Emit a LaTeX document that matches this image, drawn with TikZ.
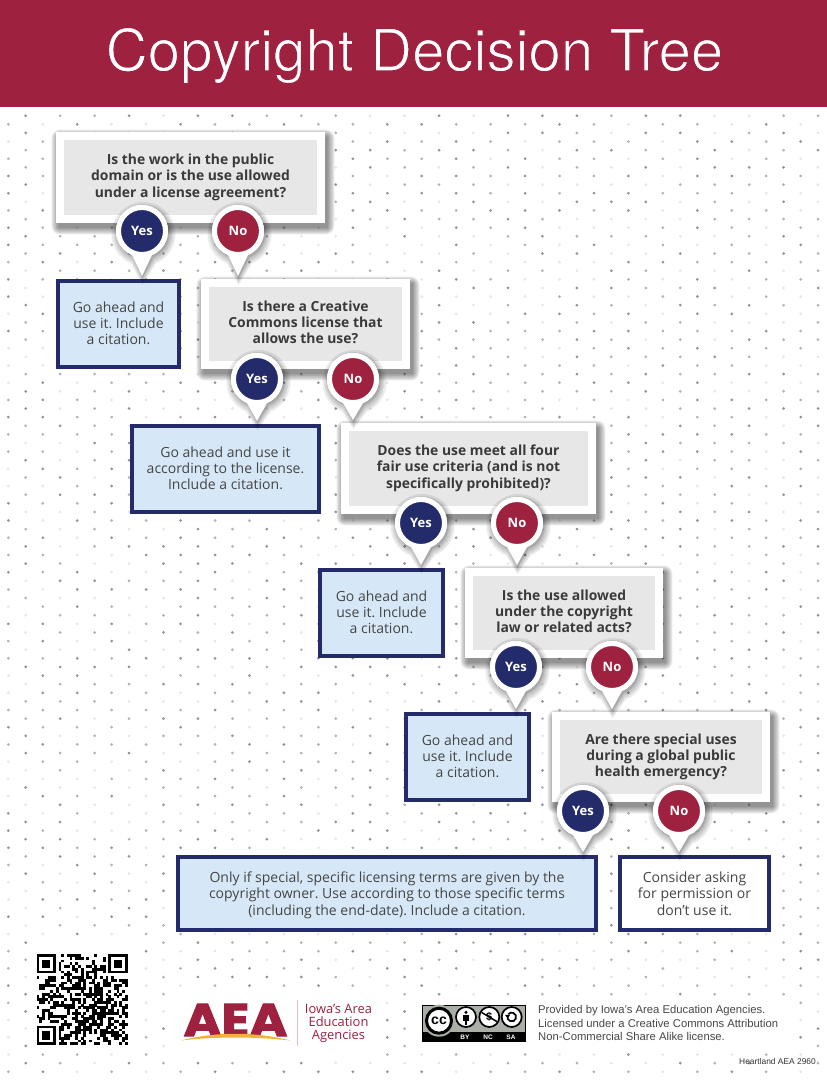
\documentclass[tikz,border=0pt]{standalone}
\usepackage{fontspec}
\usetikzlibrary{calc,arrows.meta}
\setmainfont{Open Sans}
\newfontfamily\heros{TeX Gyre Heros}
\newfontfamily\libsans{Liberation Sans}
\newfontfamily\logofont[BoldFeatures={FakeBold=2.2}]{Poppins}
\frenchspacing
\definecolor{crimson}{HTML}{9E2140}
\definecolor{navy}{HTML}{232B6B}
\definecolor{lightblue}{HTML}{D6E8F7}
\definecolor{qgrey}{HTML}{E8E7E8}
\definecolor{qtext}{HTML}{3A3A3A}
\definecolor{atext}{HTML}{454545}
\definecolor{swoosh}{HTML}{F2B233}
\definecolor{ccgrey}{HTML}{A9AEA7}
\definecolor{dotdark}{HTML}{939393}
\definecolor{dotmid}{HTML}{B2B2B2}
\definecolor{dotlight}{HTML}{E6E6E6}
\newcommand\firstA{\rule{0pt}{13pt}}
\newcommand\firstW{\rule{0pt}{15pt}}
\tikzset{
  qbox/.style={rectangle,fill=qgrey,draw=white,line width=8pt,inner sep=0pt,align=center,text=qtext,
    execute at end node={\rule[-3.7pt]{0pt}{3.7pt}},
    font=\fontsize{13.9}{16.4}\selectfont\bfseries},
  abox/.style={rectangle,fill=lightblue,draw=navy,line width=4pt,inner sep=0pt,align=center,text=atext,
    execute at end node={\rule[-4.2pt]{0pt}{4.2pt}},
    font=\fontsize{14}{16.2}\selectfont},
  pinyes/.style={circle,fill=navy,draw=white,line width=5pt,minimum size=47pt,inner sep=0pt,text=white,
    font=\fontsize{13}{15}\selectfont\bfseries},
  pinno/.style={pinyes,fill=crimson},
  foot/.style={inner sep=0pt,align=left,text=black!72,font=\fontsize{11.27}{13.4}\libsans},
  ccicon/.style={circle,fill=white,draw=black,line width=1.7pt,minimum size=20pt,inner sep=0pt},
  cclabel/.style={text=white,inner sep=0pt,font=\fontsize{6.5}{7}\libsans\bfseries}
}
% name, x1, y1, x2, y2, text
\newcommand\qnode[6]{%
  \foreach \e in {9,8,7,6,5,4,3,2,1,0}{%
    \fill[black,opacity=.05,rounded corners=\e pt] ({#2+2.5-\e*.8},{#3+4.5-\e*.8}) rectangle ({#4+2.5+\e*.8},{#5+4.5+\e*.8});
  }%
  \node[qbox,minimum width={(#4)-(#2)-8},minimum height={(#5)-(#3)-8}] (#1) at ({(#2+#4)/2},{(#3+#5)/2}) {#6};
}
\newcommand\pinoutline[3]{% centre, radius, tip
  ($(#1)+(67.4:#2)$) arc[start angle=67.4,end angle=-247.4,radius=#2] -- (#3) -- cycle}
% name, x, y, target node, style, label
\newcommand\pinnode[6]{%
  \coordinate (#1c) at (#2,#3);
  \coordinate (#1t) at ($(#1c |- #4.north)+(0,-3)$);
  \foreach \e/\d in {6/3,4/3,2.5/2.5,1/2,0/2}{%
    \fill[black,opacity=.08] \pinoutline{$(#1c)+(1.5,\d)$}{26+\e}{$(#1t)+(.5,\d+\e)$};
  }%
  \fill[white] \pinoutline{#1c}{26}{#1t};
  \node[#5] (#1) at (#1c) {#6};
}
\begin{document}
\begin{tikzpicture}[x=1pt,y=-1pt]
\useasboundingbox (0,0) rectangle (827,1080);
\fill[white] (0,0) rectangle (827,1080);
% dot field
\pgfmathsetseed{2960}
\foreach \n in {0,...,111}{
  \pgfmathsetmacro\yy{115.7+8.613*\n}
  \pgfmathtruncatemacro\od{mod(\n,2)}
  \pgfmathsetmacro\xo{\od==1 ? 8.33 : 25.7}
  \foreach \k in {0,...,23}{
    \pgfmathrandominteger\rr{0}{9}
    \ifnum\rr<3 \def\dc{dotdark}\else\ifnum\rr<7 \def\dc{dotmid}\else\def\dc{dotlight}\fi\fi
    \fill[\dc] ({\xo+34.45*\k},\yy) circle (1.5);
  }
}
% clear areas in the dot field behind the footer items
\fill[white] (33,940) rectangle (140,1050);
\fill[white] (170,990) rectangle (380,1058);
\fill[white] (412,998) rectangle (795,1050);
% header
\fill[crimson] (0,0) rectangle (827,106.5);
\node[text=white,inner sep=0pt,font=\fontsize{58.2}{66}\heros] (title) at (414.5,55.5) {\special{pdf:code q 2 Tr 1.1 w 0.62 0.129 0.251 RG}Copyright Decision Tree\special{pdf:code 0 Tr Q}};
% answer boxes
\node[abox,minimum width=121pt,minimum height=86pt] (a1) at (118.5,324) {\firstA Go ahead and\\use it. Include\\a citation.};
\node[abox,minimum width=187pt,minimum height=86pt] (a2) at (225.5,469) {\firstA Go ahead and use it\\according to the license.\\Include a citation.};
\node[abox,minimum width=123pt,minimum height=86pt] (a3) at (381.5,613) {\firstA Go ahead and\\use it. Include\\a citation.};
\node[abox,minimum width=123pt,minimum height=86pt] (a4) at (467.5,757) {\firstA Go ahead and\\use it. Include\\a citation.};
\node[abox,minimum width=418pt,minimum height=73pt] (a5) at (387,893.5) {\firstW Only if special, specific licensing terms are given by the\\copyright owner. Use according to those specific terms\\(including the end-date). Include a citation.};
\node[abox,fill=white,minimum width=149pt,minimum height=73pt] (a6) at (694.5,893.5) {\firstW Consider asking\\for permission or\\don’t use it.};
% question boxes
\qnode{q1}{56}{132}{325}{223}{Is the work in the public\\domain or is the use allowed\\under a license agreement?}
\qnode{q2}{201}{279}{410}{369}{Is there a Creative\\Commons license that\\allows the use?}
\qnode{q3}{341}{423}{596}{514}{Does the use meet all four\\fair use criteria (and is not\\specifically prohibited)?}
\qnode{q4}{465}{568}{663}{658}{Is the use allowed\\under the copyright\\law or related acts?}
\qnode{q5}{552}{712}{770}{802}{Are there special uses\\during a global public\\health emergency?}
% pins
\pinnode{y1}{142}{231}{a1}{pinyes}{Yes}
\pinnode{n1}{238}{231}{q2}{pinno}{No}
\pinnode{y2}{257}{379}{a2}{pinyes}{Yes}
\pinnode{n2}{353}{379}{q3}{pinno}{No}
\pinnode{y3}{421}{523}{a3}{pinyes}{Yes}
\pinnode{n3}{517}{523}{q4}{pinno}{No}
\pinnode{y4}{516}{667}{a4}{pinyes}{Yes}
\pinnode{n4}{612}{667}{q5}{pinno}{No}
\pinnode{y5}{583}{811}{a5}{pinyes}{Yes}
\pinnode{n5}{679}{811}{a6}{pinno}{No}
% QR code
\def\qs{2.76}
\pgfmathsetseed{417}
\foreach \i in {0,...,32}{
  \foreach \j in {0,...,32}{
    \pgfmathrandominteger\rr{0}{99}
    \pgfmathtruncatemacro\inf{((\i<8 && \j<8) || (\i>24 && \j<8) || (\i<8 && \j>24)) ? 1 : 0}
    \ifnum\inf=0 \ifnum\rr<52
      \fill[black] ({36.5+\qs*\i},{954+\qs*\j}) rectangle ++(\qs+.1,\qs+.1);
    \fi\fi
  }
}
\foreach \fx/\fy in {36.5/954, 108.2/954, 36.5/1025.7}{
  \fill[black] (\fx,\fy) rectangle ++(19.32,19.32);
  \fill[white] (\fx+2.76,\fy+2.76) rectangle ++(13.8,13.8);
  \fill[black] (\fx+5.52,\fy+5.52) rectangle ++(8.28,8.28);
}
% AEA logo
\node[text=crimson,inner sep=0pt,xscale=1.12,font=\fontsize{46}{46}\logofont\bfseries] (aea) at (235.5,1020) {AEA};
\fill[swoosh] (181,1040.5) .. controls (215,1031.5) and (255,1031.5) .. (290.5,1040.5) .. controls (255,1036.5) and (215,1036.5) .. cycle;
\fill[crimson!30] (296.5,1000) rectangle (297.8,1046);
\node[text=crimson,inner sep=0pt,align=center,font=\fontsize{12.9}{12.7}\selectfont] (agency) at (338.5,1023.5) {Iowa’s Area\\Education\\Agencies};
% CC badge
\fill[ccgrey,draw=black,line width=.8pt] (422.5,1005.2) rectangle (525.5,1041.6);
\fill[black] (422.5,1032) rectangle (525.5,1041.6);
\fill[ccgrey] (439,1020.7) circle (16);
\node[circle,fill=white,draw=black,line width=3pt,minimum size=25pt,inner sep=0pt,font=\fontsize{14}{14}\libsans\bfseries] (cc) at (439,1020.7) {cc};
\node[ccicon] (by) at (466,1017) {};
\fill[black] (466,1012.4) circle (1.7);
\fill[black] (463.2,1015) rectangle (468.8,1020.5);
\fill[black] (464.6,1020) rectangle (467.4,1024.5);
\node[ccicon,font=\fontsize{11}{11}\libsans\bfseries] (nc) at (489.3,1017) {\$};
\draw[black,line width=1.5pt] (481.8,1012.5) -- (496.8,1021.5);
\node[ccicon] (sa) at (511.7,1017) {};
\draw[black,line width=1.7pt] (507.6,1015.5) arc[start angle=200,end angle=-140,radius=4.4];
\fill[black] (505,1014.8) -- (510.2,1014.8) -- (507.6,1018.4) -- cycle;
\node[cclabel] (byl) at (465,1037) {BY};
\node[cclabel] (ncl) at (488,1037) {NC};
\node[cclabel] (sal) at (511,1037) {SA};
% footer text
\node[foot,anchor=west] (prov) at (538,1023) {Provided by Iowa’s Area Education Agencies.\\Licensed under a Creative Commons Attribution\\Non-Commercial Share Alike license.};
\node[inner sep=0pt,anchor=east,text=black!80,font=\fontsize{8.4}{10}\libsans] (hl) at (816,1061) {Heartland AEA 2960};
\end{tikzpicture}
\end{document}
